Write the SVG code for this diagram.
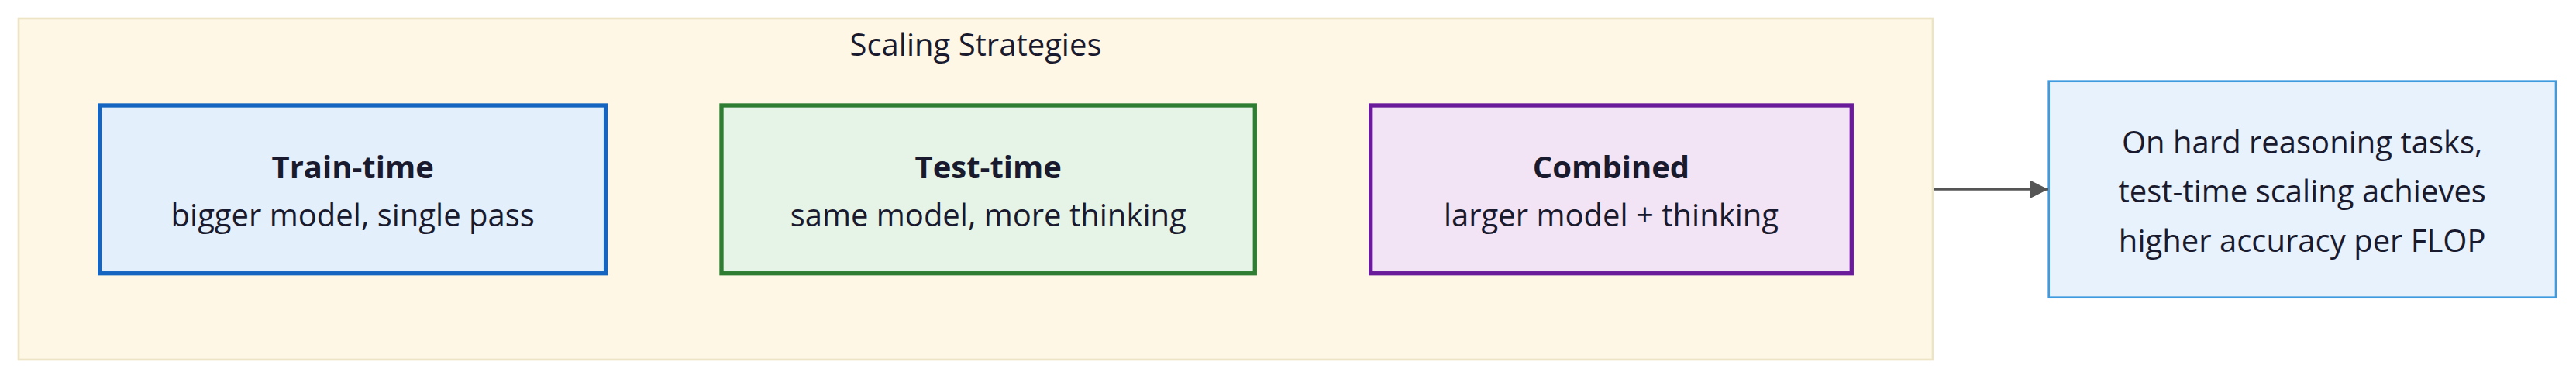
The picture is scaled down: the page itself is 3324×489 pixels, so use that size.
<svg xmlns="http://www.w3.org/2000/svg" width="3324" height="489" viewBox="0 0 3324 489">
  <defs>
    <marker id="arrow" viewBox="0 0 10 10" refX="10" refY="5" markerWidth="8.75" markerHeight="8.75" markerUnits="strokeWidth" orient="auto">
      <path d="M0,0 L10,5 L0,10 z" fill="#555555"/>
    </marker>
    <style>
      text { font-family: "Open Sans", "Noto Sans", "Liberation Sans", sans-serif; fill: #1a1a2e; text-anchor: middle; font-size: 40px; }
      .title { font-weight: 700; }
      .cluster { fill: #fef7e6; stroke: #ede4c6; stroke-width: 2.67; }
      .node { stroke-width: 5.33; }
      .edge { fill: none; stroke: #555555; stroke-width: 2.67; }
    </style>
  </defs>
  <rect width="3324" height="489" fill="#ffffff"/>

  <g id="cluster-scaling">
    <rect class="cluster" x="24" y="24" width="2470" height="440"/>
    <text x="1259" y="72">Scaling Strategies</text>
  </g>

  <g id="node-train">
    <rect class="node" x="128.7" y="136" width="652.9" height="216.7" fill="#e3f0fc" stroke="#1565c0"/>
    <text class="title" x="455.2" y="230">Train-time</text>
    <text x="455.2" y="292">bigger model, single pass</text>
  </g>

  <g id="node-test">
    <rect class="node" x="931" y="136" width="688.3" height="216.7" fill="#e6f4e8" stroke="#2e7d32"/>
    <text class="title" x="1275.2" y="230">Test-time</text>
    <text x="1275.2" y="292">same model, more thinking</text>
  </g>

  <g id="node-combined">
    <rect class="node" x="1768.7" y="136" width="620.6" height="216.7" fill="#f2e4f5" stroke="#6a1b9a"/>
    <text class="title" x="2079" y="230">Combined</text>
    <text x="2079" y="292">larger model + thinking</text>
  </g>

  <g id="node-result">
    <rect x="2643.7" y="104.7" width="654.3" height="279" fill="#e7f2fc" stroke="#3f9be0" stroke-width="2.67"/>
    <text x="2970.7" y="197.5">On hard reasoning tasks,</text>
    <text x="2970.7" y="261">test-time scaling achieves</text>
    <text x="2970.7" y="324.5">higher accuracy per FLOP</text>
  </g>

  <g id="connectors">
    <line class="edge" x1="2495" y1="244.3" x2="2643" y2="244.3" marker-end="url(#arrow)"/>
  </g>
</svg>
